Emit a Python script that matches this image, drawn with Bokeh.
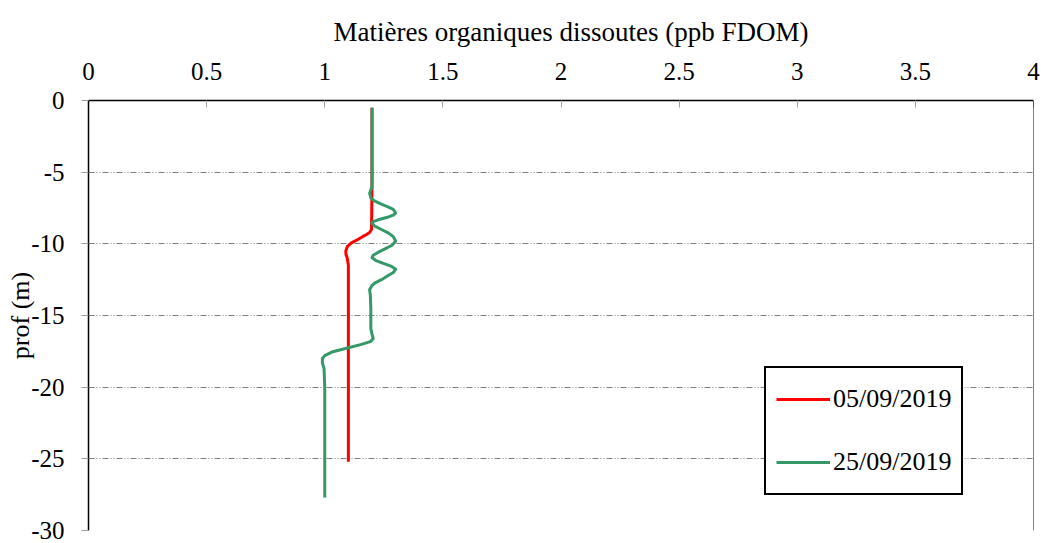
from bokeh.plotting import figure
from bokeh.models import (Range1d, FixedTicker, Legend, LegendItem, Span, Title,
                          ColumnDataSource)
from bokeh.embed import file_html
from bokeh.resources import INLINE

# ---------------- data ----------------
x_title = "Matières organiques dissoutes (ppb FDOM)"
y_title = "prof (m)"
series_names = ["05/09/2019", "25/09/2019"]

x_ticks = [0, 0.5, 1, 1.5, 2, 2.5, 3, 3.5, 4]
x_tick_labels = ["0", "0.5", "1", "1.5", "2", "2.5", "3", "3.5", "4"]
y_ticks = [0, -5, -10, -15, -20, -25, -30]
y_tick_labels = ["0", "-5", "-10", "-15", "-20", "-25", "-30"]

# 05/09/2019 profile (depth m, FDOM ppb)
depth_0509 = [-0.5, -3.0, -6.0, -9.0, -9.2, -9.35, -9.5, -9.7, -9.93, -10.17, -10.5,
              -10.75, -10.97, -11.5, -15.0, -20.0, -25.2]
fdom_0509 = [1.2, 1.2, 1.2, 1.198, 1.19, 1.177, 1.16, 1.14, 1.113, 1.096, 1.089,
             1.09, 1.095, 1.1, 1.1, 1.1, 1.1]

# 25/09/2019 profile (depth m, FDOM ppb)
depth_2509 = [-0.5, -3.0, -6.0, -6.47, -6.8, -7.0, -7.2, -7.4, -7.6, -7.85,
              -8.0, -8.15, -8.3, -8.45, -8.55, -8.75, -9.0, -9.25, -9.5, -9.82,
              -10.1, -10.35, -10.6, -10.8, -10.97, -11.15, -11.35, -11.55, -11.78,
              -12.0, -12.25, -12.5, -12.7, -12.9, -13.2, -13.6, -14.5, -15.9,
              -16.3, -16.6, -16.8, -17.0, -17.25, -17.55, -17.8, -18.0, -18.3, -18.7,
              -20.0, -24.0, -27.7]
fdom_2509 = [1.2, 1.2, 1.2, 1.19, 1.195, 1.21, 1.235, 1.265, 1.29, 1.30,
             1.29, 1.265, 1.23, 1.205, 1.20, 1.21, 1.24, 1.27, 1.29, 1.30,
             1.285, 1.255, 1.225, 1.205, 1.20, 1.215, 1.245, 1.28, 1.30,
             1.29, 1.265, 1.24, 1.215, 1.20, 1.19, 1.193, 1.195, 1.195,
             1.20, 1.205, 1.195, 1.16, 1.10, 1.03, 1.0, 0.99, 0.99, 0.997,
             1.0, 1.0, 1.0]

series_colors = ["#FF0000", "#339966"]
FONT = "Liberation Serif"

# ---------------- figure ----------------
p = figure(width=1040, height=543, output_backend="svg", toolbar_location=None,
           x_range=Range1d(0, 4), y_range=Range1d(-30, 0),
           x_axis_location="above",
           min_border_left=88, min_border_right=7, min_border_top=100, min_border_bottom=13)
p.outline_line_color = None
p.background_fill_color = "white"
p.border_fill_color = "white"

src_a = ColumnDataSource(dict(x=fdom_0509, y=depth_0509))
src_b = ColumnDataSource(dict(x=fdom_2509, y=depth_2509))
r_a = p.line("x", "y", source=src_a, line_color=series_colors[0], line_width=3,
             line_join="round")
r_b = p.line("x", "y", source=src_b, line_color=series_colors[1], line_width=3,
             line_join="round")

# x axis (top)
xa = p.xaxis[0]
xa.ticker = FixedTicker(ticks=x_ticks)
xa.major_label_overrides = {float(t): l for t, l in zip(x_ticks, x_tick_labels)}
xa.minor_tick_line_color = None
xa.major_tick_in = 7
xa.major_tick_out = 0
xa.major_tick_line_color = "#A0A0A0"
xa.axis_line_color = "black"
xa.axis_line_width = 1.5
xa.major_label_standoff = 21
xa.major_label_text_font = FONT
xa.major_label_text_font_size = "25px"
xa.major_label_text_color = "black"

# y axis (left)
ya = p.yaxis[0]
ya.ticker = FixedTicker(ticks=y_ticks)
ya.major_label_overrides = {float(t): l for t, l in zip(y_ticks, y_tick_labels)}
ya.minor_tick_line_color = None
ya.major_tick_in = 0
ya.major_tick_out = 7
ya.major_tick_line_color = "#A0A0A0"
ya.axis_line_color = "black"
ya.axis_line_width = 1.5
ya.major_label_standoff = 17
ya.major_label_text_font = FONT
ya.major_label_text_font_size = "25px"
ya.major_label_text_color = "black"
ya.axis_label = y_title
ya.axis_label_text_font = FONT
ya.axis_label_text_font_size = "26px"
ya.axis_label_text_font_style = "normal"
ya.axis_label_text_color = "black"
ya.axis_label_standoff = -7

# grid
p.xgrid.grid_line_color = None
p.ygrid.ticker = FixedTicker(ticks=y_ticks)
p.ygrid.grid_line_color = "#808080"
p.ygrid.grid_line_width = 1
p.ygrid.grid_line_dash = "6 2 1 2 1 2"

# right frame edge
p.add_layout(Span(location=4, dimension="height", line_color="black", line_width=1))

# title
p.title = Title(text=x_title, align="left", offset=245, text_font=FONT,
                text_font_size="27px", text_font_style="normal", text_color="black",
                standoff=26)

# legend
legend = Legend(items=[LegendItem(label=series_names[0], renderers=[r_a]),
                       LegendItem(label=series_names[1], renderers=[r_b])],
                location=(676, 35), orientation="vertical",
                border_line_color="black", border_line_width=2.5, border_line_alpha=1,
                background_fill_color="white", background_fill_alpha=1,
                label_text_font=FONT, label_text_font_size="26px",
                label_text_color="black",
                glyph_width=54, glyph_height=42, label_height=42,
                spacing=21, padding=10, label_standoff=3, margin=0)
p.add_layout(legend)

open("out.html", "w").write(file_html(p, INLINE))
